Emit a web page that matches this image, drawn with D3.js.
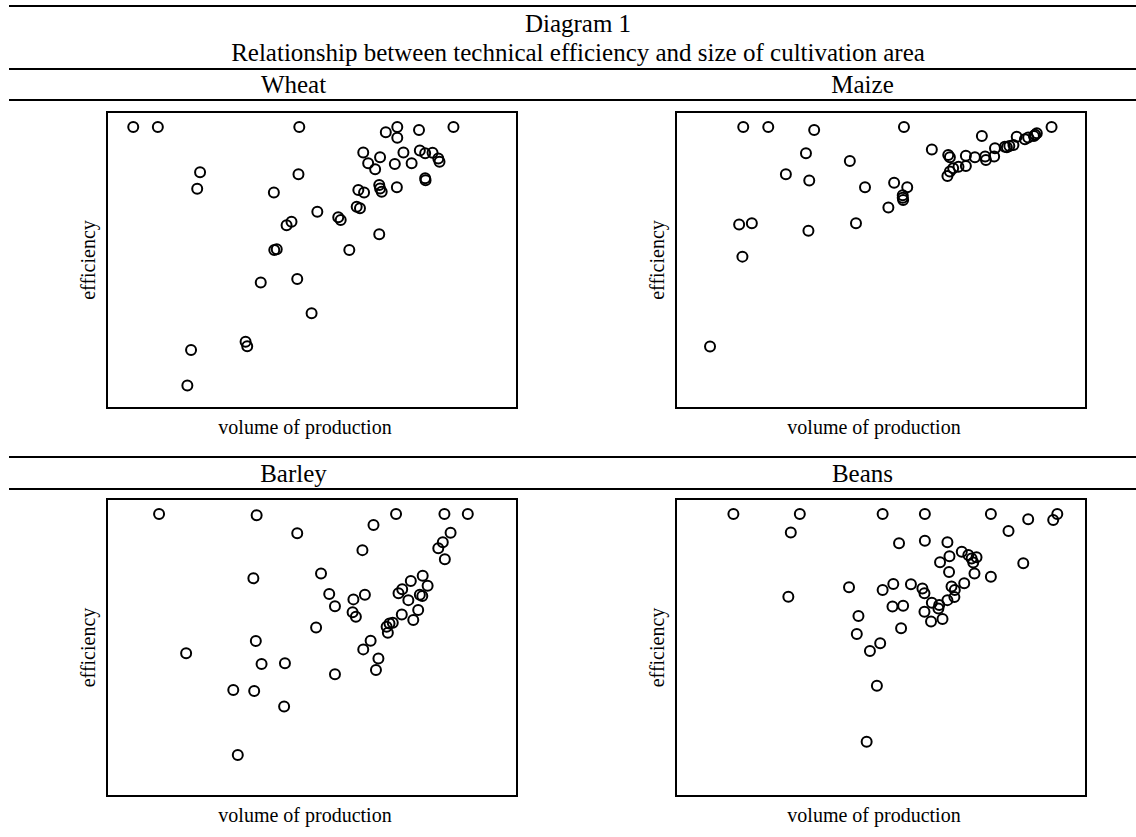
<!DOCTYPE html>
<html><head><meta charset="utf-8">
<script src="https://cdn.jsdelivr.net/npm/d3@7"></script>
<style>
body{margin:0;background:#fff;}
svg{display:block;}
text{font-family:"Liberation Serif","Times New Roman",serif;fill:#000;}
</style>
</head><body>
<svg id="c" width="1136" height="837"></svg>
<script>
const titleLines = ["Diagram 1", "Relationship between technical efficiency and size of cultivation area"];
const crops = ["Wheat", "Maize", "Barley", "Beans"];
const xLabel = "volume of production";
const yLabel = "efficiency";

const wheatVolume = [6.4,12.4,46.9,70.8,68.0,70.8,76.1,84.5,62.5,66.6,72.3,63.7,65.4,70.2,74.3,76.3,77.6,79.4,80.8,81.1,77.6,77.7,22.7,22.0,46.7,40.7,61.3,62.7,66.4,66.6,67.0,70.7,60.9,61.7,51.3,56.4,57.0,43.8,45.0,66.4,40.8,41.4,59.1,37.5,46.4,49.9,33.8,34.2,20.5,19.6];
const wheatEfficiency = [1.00,1.00,1.00,1.00,0.986,0.971,0.992,1.00,0.932,0.919,0.932,0.903,0.887,0.901,0.903,0.937,0.930,0.931,0.916,0.907,0.863,0.858,0.879,0.835,0.874,0.825,0.832,0.825,0.845,0.836,0.827,0.839,0.787,0.783,0.774,0.759,0.752,0.738,0.747,0.714,0.672,0.674,0.672,0.585,0.594,0.503,0.427,0.415,0.405,0.310];

const maizeVolume = [16.4,22.5,33.7,55.6,31.7,42.4,26.8,32.5,46.1,53.2,56.4,55.3,55.3,55.4,51.8,15.4,18.5,32.3,43.9,16.2,8.3,62.4,74.6,66.4,66.8,70.7,72.9,75.4,75.6,77.6,77.8,80.2,81.3,82.3,83.1,85.1,85.9,87.3,88.0,91.6,66.2,66.8,67.6,68.9,70.7,80.7,87.6];
const maizeEfficiency = [1.00,1.00,0.992,1.00,0.930,0.909,0.874,0.857,0.839,0.851,0.839,0.818,0.811,0.805,0.785,0.740,0.743,0.723,0.743,0.654,0.414,0.940,0.976,0.925,0.919,0.923,0.919,0.921,0.912,0.921,0.943,0.947,0.949,0.952,0.974,0.967,0.972,0.976,0.983,1.00,0.869,0.881,0.890,0.894,0.896,0.946,0.979];

const barleyVolume = [12.7,36.5,70.5,82.3,88.0,65.0,46.4,83.8,81.9,80.8,82.4,62.3,35.7,52.2,77.0,74.1,78.2,72.0,71.1,76.3,76.9,73.5,54.2,55.6,60.1,62.9,59.9,60.7,75.9,71.9,74.7,68.9,69.7,68.2,68.5,51.0,64.3,62.5,66.2,65.6,36.3,19.3,37.7,43.4,55.6,30.8,35.9,43.2,31.9];
const barleyEfficiency = [1.00,0.997,1.00,1.00,1.00,0.971,0.949,0.950,0.925,0.909,0.880,0.904,0.829,0.842,0.836,0.822,0.809,0.800,0.789,0.785,0.782,0.771,0.787,0.755,0.773,0.785,0.739,0.727,0.745,0.733,0.718,0.709,0.711,0.700,0.684,0.698,0.663,0.640,0.616,0.585,0.662,0.630,0.601,0.603,0.574,0.532,0.529,0.488,0.359];

const beansVolume = [14.0,30.2,50.4,60.7,76.8,85.9,92.0,93.0,28.0,81.1,54.4,60.7,66.2,69.7,71.3,73.3,66.7,64.4,72.5,84.7,66.6,72.8,76.8,70.3,67.2,68.0,67.9,66.2,42.2,50.4,53.0,57.3,60.1,60.6,27.4,52.8,55.4,62.4,64.2,64.0,60.6,65.0,62.2,44.5,44.1,54.9,49.8,47.3,49.0,46.5,72.1];
const beansEfficiency = [1.00,1.00,1.00,1.00,1.00,0.986,0.984,1.00,0.951,0.955,0.922,0.929,0.925,0.900,0.891,0.885,0.888,0.872,0.871,0.869,0.846,0.842,0.833,0.816,0.807,0.798,0.779,0.771,0.805,0.798,0.814,0.813,0.802,0.789,0.780,0.754,0.756,0.764,0.758,0.749,0.740,0.721,0.714,0.729,0.681,0.696,0.656,0.636,0.543,0.394,0.882];

const volumeDomain = [0, 100];
const efficiencyDomain = [0.25, 1.04];

const panelData = [
  {name: crops[0], x: wheatVolume, y: wheatEfficiency},
  {name: crops[1], x: maizeVolume, y: maizeEfficiency},
  {name: crops[2], x: barleyVolume, y: barleyEfficiency},
  {name: crops[3], x: beansVolume, y: beansEfficiency}
];

const svg = d3.select("#c");
const tableLeft = 9, tableRight = 1147, colW = (tableRight - tableLeft) / 2;

function hline(y) {
  svg.append("line").attr("x1", tableLeft).attr("x2", tableRight)
    .attr("y1", y).attr("y2", y).attr("stroke", "#000").attr("stroke-width", 2);
}

// title block
hline(6);
svg.append("text").attr("x", (tableLeft + tableRight) / 2).attr("y", 32)
  .attr("text-anchor", "middle").style("font-size", "25px").text(titleLines[0]);
svg.append("text").attr("x", (tableLeft + tableRight) / 2).attr("y", 61)
  .attr("text-anchor", "middle").style("font-size", "25px").text(titleLines[1]);

const rows = [
  {lineTop: 69, titleY: 93, lineBottom: 100, boxTop: 112, boxBottom: 408, xLabY: 434},
  {lineTop: 457, titleY: 482, lineBottom: 489, boxTop: 499, boxBottom: 796, xLabY: 822}
];

rows.forEach(r => { hline(r.lineTop); hline(r.lineBottom); });

panelData.forEach((p, i) => {
  const r = rows[Math.floor(i / 2)];
  const col = i % 2;
  const colLeft = tableLeft + col * colW;
  const boxLeft = colLeft + 98, boxRight = boxLeft + 410;

  svg.append("text").attr("x", colLeft + colW / 2).attr("y", r.titleY)
    .attr("text-anchor", "middle").style("font-size", "25px").text(p.name);

  const xs = d3.scaleLinear().domain(volumeDomain).range([boxLeft, boxRight]);
  const ys = d3.scaleLinear().domain(efficiencyDomain).range([r.boxBottom, r.boxTop]);

  const g = svg.append("g");
  g.append("rect").attr("x", boxLeft).attr("y", r.boxTop)
    .attr("width", boxRight - boxLeft).attr("height", r.boxBottom - r.boxTop)
    .attr("fill", "none").attr("stroke", "#000").attr("stroke-width", 2);

  const pts = p.x.map((v, k) => ({v: v, e: p.y[k]}));
  g.selectAll("circle.pt").data(pts).enter().append("circle")
    .attr("class", "pt")
    .attr("cx", d => xs(d.v)).attr("cy", d => ys(d.e)).attr("r", 5)
    .attr("fill", "none").attr("stroke", "#000").attr("stroke-width", 2);

  svg.append("text").attr("x", colLeft + 296).attr("y", r.xLabY)
    .attr("text-anchor", "middle").style("font-size", "20px").text(xLabel);

  const ly = (r.boxTop + r.boxBottom) / 2;
  svg.append("text").attr("transform", `translate(${colLeft + 86},${ly}) rotate(-90)`)
    .attr("text-anchor", "middle").style("font-size", "20px").text(yLabel);
});
</script>
</body></html>
